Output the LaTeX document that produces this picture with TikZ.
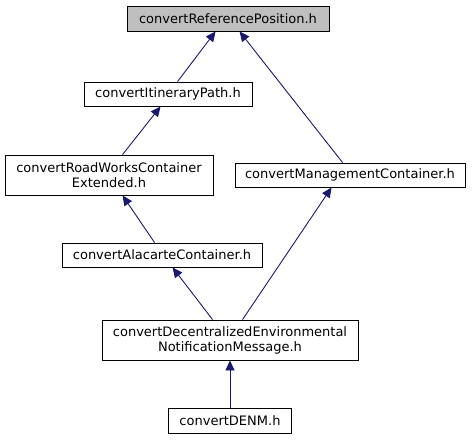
\documentclass[tikz,border=0pt]{standalone}
\usepackage{fontspec}
\setmainfont{DejaVu Sans}
\usetikzlibrary{arrows.meta,calc}
\definecolor{edgeblue}{HTML}{191970}
\definecolor{rootgray}{HTML}{BFBFBF}
\tikzset{
  box/.style={draw=black, line width=0.9pt, fill=white, inner sep=0pt, align=center,
    font=\fontsize{13}{15}\selectfont},
  dep/.style={draw=edgeblue, line width=0.9pt,
    -{Triangle[length=10pt,width=9pt,fill=edgeblue]}},
}
\begin{document}
\begin{tikzpicture}[x=1pt,y=-1pt]
\useasboundingbox[fill=white] (0,0) rectangle (472,440);
\node[box, fill=rootgray, minimum width=202pt, minimum height=25pt] (b1) at (228,18.5) {convertReferencePosition.h};
\node[box, minimum width=168pt, minimum height=24pt] (b2) at (168,94) {convertItineraryPath.h};
\node[box, minimum width=208pt, minimum height=40pt] (b3) at (109,175) {convertRoadWorksContainer\\Extended.h};
\node[box, minimum width=230pt, minimum height=24pt] (b4) at (350,175) {convertManagementContainer.h};
\node[box, minimum width=200pt, minimum height=24pt] (b5) at (162,255) {convertAlacarteContainer.h};
\node[box, minimum width=256pt, minimum height=40pt] (b6) at (230,340) {convertDecentralizedEnvironmental\\NotificationMessage.h};
\node[box, minimum width=123pt, minimum height=25pt] (b7) at (230,420.5) {convertDENM.h};

\draw[dep] ($(b2.north west)+(94,0)$) -- ($(b1.south west)+(89,0)$);
\draw[dep] ($(b4.north west)+(108,0)$) -- ($(b1.south west)+(113,0)$);
\draw[dep] ($(b3.north west)+(118,0)$) -- ($(b2.south west)+(77,0)$);
\draw[dep] ($(b5.north west)+(93,0)$) -- ($(b3.south west)+(118,0)$);
\draw[dep] ($(b6.north west)+(111,0)$) -- ($(b5.south west)+(111,0)$);
\draw[dep] ($(b6.north west)+(141,0)$) -- ($(b4.south west)+(97,0)$);
\draw[dep] (b7.north -| b6.south) -- (b6.south);
\end{tikzpicture}
\end{document}
